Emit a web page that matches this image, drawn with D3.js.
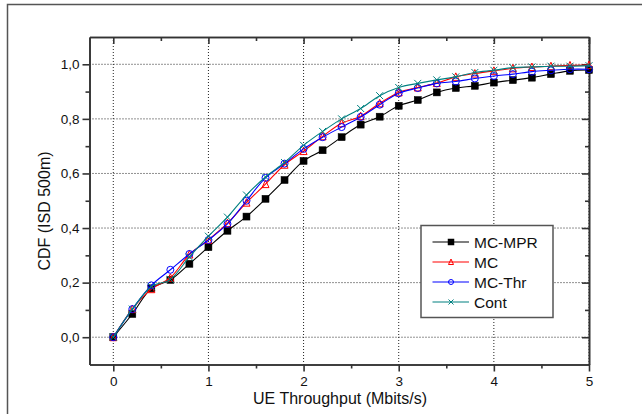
<!DOCTYPE html>
<html>
<head>
<meta charset="utf-8">
<script src="https://cdn.jsdelivr.net/npm/d3@7"></script>
<style>
  html, body { margin: 0; padding: 0; background: #fff; }
  svg { display: block; font-family: "Liberation Sans", Arial, sans-serif; }
</style>
</head>
<body>
<svg id="chart" width="642" height="414"></svg>
<script>
// UE throughput sample points (Mbit/s)
const throughput = [0, 0.2, 0.4, 0.6, 0.8, 1.0, 1.2, 1.4, 1.6, 1.8, 2.0, 2.2, 2.4,
                    2.6, 2.8, 3.0, 3.2, 3.4, 3.6, 3.8, 4.0, 4.2, 4.4, 4.6, 4.8, 5.0];

// CDF values per scheme
const cdfMcMpr = [0, 0.085, 0.179, 0.210, 0.269, 0.330, 0.390, 0.442, 0.507, 0.576, 0.646, 0.685, 0.733,
                  0.779, 0.808, 0.848, 0.869, 0.897, 0.913, 0.921, 0.933, 0.942, 0.951, 0.964, 0.976, 0.979];
const cdfMc    = [0, 0.103, 0.176, 0.218, 0.303, 0.357, 0.418, 0.493, 0.561, 0.632, 0.682, 0.736, 0.784,
                  0.810, 0.857, 0.897, 0.915, 0.931, 0.954, 0.966, 0.976, 0.985, 0.990, 0.993, 0.996, 0.997];
const cdfMcThr = [0, 0.103, 0.190, 0.247, 0.305, 0.356, 0.415, 0.500, 0.584, 0.636, 0.690, 0.733, 0.770,
                  0.807, 0.852, 0.894, 0.913, 0.930, 0.937, 0.948, 0.957, 0.964, 0.973, 0.978, 0.982, 0.982];
const cdfCont  = [0, 0.103, 0.185, 0.212, 0.294, 0.370, 0.440, 0.521, 0.587, 0.640, 0.703, 0.754, 0.800,
                  0.838, 0.885, 0.915, 0.930, 0.943, 0.954, 0.970, 0.978, 0.988, 0.990, 0.993, 0.993, 0.995];

const seriesNames = ["MC-MPR", "MC", "MC-Thr", "Cont"];
const xTickValues = [0, 1, 2, 3, 4, 5];
const yTickValues = [0, 0.2, 0.4, 0.6, 0.8, 1.0];

const series = [
  { name: seriesNames[0], values: cdfMcMpr, color: "#000000", marker: "square" },
  { name: seriesNames[1], values: cdfMc,    color: "#ff0000", marker: "triangle" },
  { name: seriesNames[2], values: cdfMcThr, color: "#0000ff", marker: "circle" },
  { name: seriesNames[3], values: cdfCont,  color: "#008080", marker: "cross" }
];

const svg = d3.select("#chart");

// outer page frame (only top/left edges fall inside the view)
svg.append("rect")
  .attr("x", 7.5).attr("y", 4.5)
  .attr("width", 700).attr("height", 500)
  .attr("fill", "none").attr("stroke", "#555").attr("stroke-width", 1.5);

const plot = { left: 89.5, right: 589, top: 37, bottom: 364.5 };

const x = d3.scaleLinear().domain([-0.25, 5]).range([plot.left, plot.right]);
const y = d3.scaleLinear().domain([-0.1, 1.1]).range([plot.bottom, plot.top]);

const fmt = d3.format(".1f");
const commaFmt = v => fmt(v).replace(".", ",");

// dotted grid at major ticks
const grid = svg.append("g").attr("stroke", "#222").attr("stroke-width", 1)
  .attr("stroke-dasharray", "1,2");
grid.selectAll("line.gx").data(xTickValues).join("line")
  .attr("x1", d => x(d)).attr("x2", d => x(d))
  .attr("y1", plot.top).attr("y2", plot.bottom);
grid.selectAll("line.gy").data(yTickValues).join("line")
  .attr("x1", plot.left).attr("x2", plot.right)
  .attr("y1", d => y(d)).attr("y2", d => y(d));

// minor tick values
const xMinor = [0.5, 1.5, 2.5, 3.5, 4.5];
const yMinor = [0.1, 0.3, 0.5, 0.7, 0.9];

function styleAxis(g) {
  g.select(".domain").attr("stroke", "#333").attr("stroke-width", 1.6);
  g.selectAll(".tick line").attr("stroke", "#333").attr("stroke-width", 1.6);
  g.selectAll(".tick text").attr("fill", "#111")
    .style("font-size", "13.5px").style("font-family", "'Liberation Sans', Arial, sans-serif");
}

// bottom axis
svg.append("g").attr("transform", `translate(0,${plot.bottom})`)
  .call(d3.axisBottom(x).tickValues(xTickValues).tickFormat(d3.format("d"))
    .tickSize(7).tickSizeOuter(0).tickPadding(5))
  .call(styleAxis);
svg.append("g").attr("transform", `translate(0,${plot.bottom})`)
  .call(d3.axisBottom(x).tickValues(xMinor).tickFormat("").tickSize(4).tickSizeOuter(0))
  .call(styleAxis);

// top axis (inward ticks)
svg.append("g").attr("transform", `translate(0,${plot.top})`)
  .call(d3.axisTop(x).tickValues(xTickValues).tickFormat("").tickSize(-7).tickSizeOuter(0))
  .call(styleAxis);
svg.append("g").attr("transform", `translate(0,${plot.top})`)
  .call(d3.axisTop(x).tickValues(xMinor).tickFormat("").tickSize(-4).tickSizeOuter(0))
  .call(styleAxis);

// left axis
svg.append("g").attr("transform", `translate(${plot.left},0)`)
  .call(d3.axisLeft(y).tickValues(yTickValues).tickFormat(commaFmt)
    .tickSize(7).tickSizeOuter(0).tickPadding(3))
  .call(styleAxis);
svg.append("g").attr("transform", `translate(${plot.left},0)`)
  .call(d3.axisLeft(y).tickValues(yMinor).tickFormat("").tickSize(4).tickSizeOuter(0))
  .call(styleAxis);

// right axis (inward ticks)
svg.append("g").attr("transform", `translate(${plot.right},0)`)
  .call(d3.axisRight(y).tickValues(yTickValues).tickFormat("").tickSize(-7).tickSizeOuter(0))
  .call(styleAxis);
svg.append("g").attr("transform", `translate(${plot.right},0)`)
  .call(d3.axisRight(y).tickValues(yMinor).tickFormat("").tickSize(-4).tickSizeOuter(0))
  .call(styleAxis);

// axis titles
svg.append("text")
  .attr("x", 340).attr("y", 404)
  .attr("text-anchor", "middle")
  .style("font-size", "16px").attr("fill", "#111")
  .text("UE Throughput (Mbits/s)");

svg.append("text")
  .attr("transform", "translate(50,211) rotate(-90)")
  .attr("text-anchor", "middle")
  .style("font-size", "16px").attr("fill", "#111")
  .text("CDF (ISD 500m)");

// marker drawing
function drawMarker(g, type, color, size) {
  const h = size / 2;
  if (type === "square") {
    g.append("rect").attr("x", -h).attr("y", -h).attr("width", size).attr("height", size)
      .attr("fill", color).attr("stroke", color).attr("stroke-width", 0.5);
  } else if (type === "triangle") {
    g.append("path").attr("d", `M0,${-h - 0.5}L${h},${h}L${-h},${h}Z`)
      .attr("fill", "none").attr("stroke", color).attr("stroke-width", 1);
  } else if (type === "circle") {
    g.append("circle").attr("r", h).attr("fill", "none")
      .attr("stroke", color).attr("stroke-width", 1);
  } else if (type === "cross") {
    g.append("path").attr("d", `M${-h},${-h}L${h},${h}M${-h},${h}L${h},${-h}`)
      .attr("fill", "none").attr("stroke", color).attr("stroke-width", 1);
  }
}

const line = d3.line()
  .x((d, i) => x(throughput[i]))
  .y(d => y(d))
  .curve(d3.curveCatmullRom.alpha(0.5));

const plotArea = svg.append("g");
series.forEach(s => {
  plotArea.append("path")
    .attr("d", line(s.values))
    .attr("fill", "none").attr("stroke", s.color).attr("stroke-width", 1.1);
  s.values.forEach((v, i) => {
    const g = plotArea.append("g")
      .attr("transform", `translate(${x(throughput[i])},${y(v)})`);
    drawMarker(g, s.marker, s.color, 7);
  });
});

// legend
const legend = svg.append("g").attr("transform", "translate(421,225.5)");
legend.append("rect")
  .attr("width", 132).attr("height", 92)
  .attr("fill", "#fff").attr("stroke", "#555").attr("stroke-width", 1.5);
series.forEach((s, i) => {
  const yy = 16.5 + i * 20;
  const item = legend.append("g");
  item.append("line").attr("x1", 11.5).attr("x2", 48)
    .attr("y1", yy).attr("y2", yy)
    .attr("stroke", s.color).attr("stroke-width", 1.1);
  const m = item.append("g").attr("transform", `translate(30,${yy})`);
  drawMarker(m, s.marker, s.color, s.marker === "square" ? 6 : 5);
  item.append("text").attr("x", 53).attr("y", yy + 5.5)
    .style("font-size", "15.5px").attr("fill", "#111")
    .text(s.name);
});
</script>
</body>
</html>
